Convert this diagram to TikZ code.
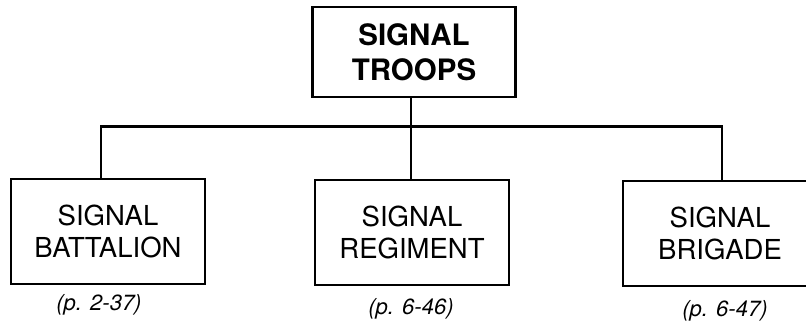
\documentclass[tikz,border=0pt]{standalone}
\usepackage{fontspec}
\setmainfont{TeX Gyre Heros}
\usepackage{tikz}
\usetikzlibrary{positioning,calc}

\begin{document}
\begin{tikzpicture}[
  x=1pt, y=-1pt,
  box/.style={draw, line width=2.5pt, text centered, align=center, inner sep=0pt,
              minimum width=194pt, minimum height=105pt,
              font=\fontsize{27.5}{32}\selectfont},
  topbox/.style={box, minimum width=203pt, minimum height=90pt,
                 font=\fontsize{29.5}{35}\selectfont\bfseries},
  pageref/.style={font=\fontsize{22}{26}\selectfont\itshape, inner sep=0pt},
  link/.style={line width=2.3pt}
]
\useasboundingbox (0,0) rectangle (806,321);
\clip (0,0) rectangle (806,321);

\node (troops) [topbox] at (414,52) {SIGNAL\\TROOPS};

\node (battalion) [box] at (108,231.5) {SIGNAL\\BATTALION};
\node (regiment)  [box] at (412,232.5) {SIGNAL\\REGIMENT};
\node (brigade)   [box] at (720,233.5) {SIGNAL\\BRIGADE};

\node (refBattalion) [pageref] at (99,305)  {(p. 2-37)};
\node (refRegiment)  [pageref] at (411,309) {(p. 6-46)};
\node (refBrigade)   [pageref] at (725,311) {(p. 6-47)};

\coordinate (busL) at (101,126.5);
\coordinate (busM) at (411,126.5);
\coordinate (busR) at (722,126.5);

\draw [link] (busM |- troops.south) -- (busM |- regiment.north);
\draw [link] (busL |- battalion.north) -- (busL) -- (busR) -- (busR |- brigade.north);

\end{tikzpicture}
\end{document}
